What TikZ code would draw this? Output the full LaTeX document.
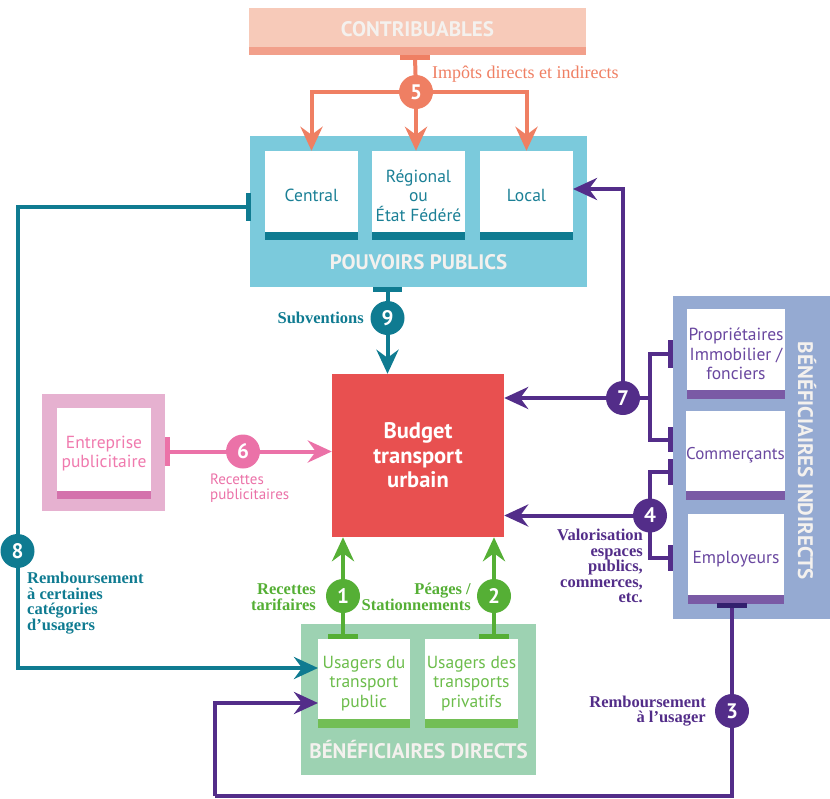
\documentclass[tikz,border=0pt]{standalone}
\usepackage{fontspec}
\setmainfont{Liberation Serif}
\setsansfont{PT Sans}
\usetikzlibrary{arrows.meta,calc}
\definecolor{cOr}{HTML}{EF7F63}
\definecolor{cOrFill}{HTML}{F7CAB9}
\definecolor{cOrBand}{HTML}{F2A08B}
\definecolor{cTeal}{HTML}{0F7B91}
\definecolor{cTealFill}{HTML}{7BCADC}
\definecolor{cTealTxt}{HTML}{1B8096}
\definecolor{cRed}{HTML}{E85050}
\definecolor{cPink}{HTML}{EB72A8}
\definecolor{cPinkFill}{HTML}{E6B1D0}
\definecolor{cPinkBand}{HTML}{D472AC}
\definecolor{cPinkTxt}{HTML}{F07AAE}
\definecolor{cGreen}{HTML}{55AF35}
\definecolor{cGreenFill}{HTML}{9DD2B2}
\definecolor{cGreenBand}{HTML}{72BE55}
\definecolor{cGreenTxt}{HTML}{6CBD4B}
\definecolor{cPurple}{HTML}{532D89}
\definecolor{cPurpleDark}{HTML}{33206E}
\definecolor{cPurpleFill}{HTML}{95AAD2}
\definecolor{cPurpleBand}{HTML}{7A5AA5}
\definecolor{cPurpleTxt}{HTML}{6A48A0}
\definecolor{cWhiteTxt}{HTML}{F4F1EE}
\begin{document}
\begin{tikzpicture}[x=1pt,y=-1pt,
  panel/.style={rectangle,inner sep=0pt,draw=none},
  inbox/.style={rectangle,inner sep=0pt,fill=white,align=center,font=\sffamily\fontsize{17.5}{19.5}\selectfont},
  ttl/.style={font=\sffamily\bfseries\fontsize{21}{22}\selectfont,text=cWhiteTxt,inner sep=0pt},
  num/.style={circle,inner sep=0pt,minimum size=34pt,text=white,font=\sffamily\bfseries\fontsize{21}{21}\selectfont},
  slab/.style={font=\bfseries\fontsize{16.5}{15.5}\selectfont,inner sep=0pt},
  flow/.style={line width=4pt},
  tip/.style={-{Stealth[length=24pt,width=22pt,inset=8pt]}}
]
\useasboundingbox (0,0) rectangle (830,798);

% ---------- boxes ----------
\node[panel,fill=cOrFill,minimum width=337pt,minimum height=47pt] (contrib) at (417.5,31.5) {};
\fill[cOrBand] ($(contrib.south west)+(0,-8)$) rectangle (contrib.south east);
\node[ttl] (contribT) at (417.5,29) {CONTRIBUABLES};

\node[panel,fill=cTealFill,minimum width=337pt,minimum height=151pt] (pouv) at (418.5,211.5) {};
\node[inbox,text=cTealTxt,minimum width=93pt,minimum height=89pt] (central) at (311.5,195.5) {Central};
\node[inbox,text=cTealTxt,minimum width=93pt,minimum height=89pt] (regional) at (418.5,195.5) {Régional\\ou\\État Fédéré};
\node[inbox,text=cTealTxt,minimum width=93pt,minimum height=89pt] (local) at (526.5,195.5) {Local};
\foreach \b in {central,regional,local}{\fill[cTeal] ($(\b.south west)+(0,-8)$) rectangle (\b.south east);}
\node[ttl] (pouvT) at (418.5,262) {POUVOIRS PUBLICS};

\node[panel,fill=cRed,minimum width=172pt,minimum height=163pt,text=white,align=center,
  font=\sffamily\bfseries\fontsize{22.5}{24.5}\selectfont] (budget) at (418,455.5) {Budget\\transport\\urbain};

\node[panel,fill=cPinkFill,minimum width=123pt,minimum height=117pt] (entr) at (103.5,452.5) {};
\node[inbox,text=cPinkTxt,minimum width=94pt,minimum height=91pt] (entrI) at (104,453.5) {Entreprise\\publicitaire};
\fill[cPinkBand] ($(entrI.south west)+(0,-8)$) rectangle (entrI.south east);

\node[panel,fill=cGreenFill,minimum width=235pt,minimum height=151pt] (dir) at (418.5,699.5) {};
\node[inbox,text=cGreenTxt,minimum width=92pt,minimum height=89pt] (up) at (364,683.5) {Usagers du\\transport\\public};
\node[inbox,text=cGreenTxt,minimum width=93pt,minimum height=89pt] (up2) at (471.5,683.5) {Usagers des\\transports\\privatifs};
\foreach \b in {up,up2}{\fill[cGreenBand] ($(\b.south west)+(0,-9)$) rectangle (\b.south east);}
\node[ttl] (dirT) at (418.5,750) {BÉNÉFICIAIRES DIRECTS};

\node[panel,fill=cPurpleFill,minimum width=157pt,minimum height=323pt] (ind) at (751.5,457.5) {};
\node[inbox,text=cPurpleTxt,minimum width=98pt,minimum height=90pt] (prop) at (736,354) {Propriétaires\\Immobilier /\\fonciers};
\node[inbox,text=cPurpleTxt,minimum width=97pt,minimum height=89pt,font=\sffamily\fontsize{17}{19.5}\selectfont] (comm) at (735.5,455.5) {Commerçants};
\node[inbox,text=cPurpleTxt,minimum width=96pt,minimum height=90pt] (empl) at (736,559) {Employeurs};
\foreach \b in {prop,comm,empl}{\fill[cPurpleBand] ($(\b.south west)+(0,-9)$) rectangle (\b.south east);}
\node[ttl,rotate=-90,font=\sffamily\bfseries\fontsize{21}{22}\selectfont] (indT) at (807,461) {BÉNÉFICIAIRES INDIRECTS};

% ---------- coordinates ----------
\coordinate (t5) at (415,57);
\coordinate (t9) at (387.5,289);
\coordinate (t8) at (248.5,207);
\coordinate (t6) at (167.5,451.5);
\coordinate (t1) at (343,636.5);
\coordinate (t2) at (494,636.5);
\coordinate (t7a) at (670.5,354);
\coordinate (t7b) at (670.5,439.5);
\coordinate (t4a) at (670.5,472);
\coordinate (t4b) at (670.5,558);
\coordinate (t3) at (732,605);
\coordinate (j7t) at (650,354);
\coordinate (j7b) at (650,439.5);
\coordinate (j4t) at (650,472);
\coordinate (j4b) at (650,558);
\coordinate (loc7) at (573,189);
\coordinate (in8) at (318,668);
\coordinate (in3) at (318,703);
\coordinate (l3) at (215,796);

% ---------- number circles (positions) ----------
\path (416,92) coordinate (p5) (387.5,318) coordinate (p9) (17.5,551) coordinate (p8)
      (243,451.5) coordinate (p6) (343,596) coordinate (p1) (494,596) coordinate (p2)
      (623,398) coordinate (p7) (650,515.5) coordinate (p4) (732,711) coordinate (p3);

% ---------- connectors ----------
\draw[flow,cOr] (t5) -- (p5);
\draw[flow,cOr,tip] (p5) -| (central.north);
\draw[flow,cOr,tip] (p5) -| (local.north);
\draw[flow,cOr,tip] (p5) -- (p5 |- regional.north);

\draw[flow,cTeal] (t9) -- (p9);
\draw[flow,cTeal,tip] (p9) -- (p9 |- budget.north);

\draw[flow,cTeal] (t8) -| (p8);
\draw[flow,cTeal,tip] (p8) |- (in8);

\draw[flow,cPink,tip] (t6) -- (budget.west |- t6);

\draw[flow,cGreen,tip] (t1) -- (t1 |- budget.south);
\draw[flow,cGreen,tip] (t2) -- (t2 |- budget.south);

\draw[flow,cPurple,line join=miter] (t7a) -- (j7t) -- (j7b) -- (t7b);
\draw[flow,cPurple] (p7) -- (p7 -| j7t);
\draw[flow,cPurple,tip] (p7) |- (loc7);
\draw[flow,cPurple,tip] (p7) -- (budget.east |- p7);

\draw[flow,cPurple,line join=miter] (t4a) -- (j4t) -- (j4b) -- (t4b);
\draw[flow,cPurple,tip] (p4) -- (budget.east |- p4);

\draw[flow,cPurple,line join=miter] (t3) -- (p3) |- (l3);
\draw[flow,cPurple,tip,line join=miter] (l3) |- (in3);

% ---------- tee bars ----------
\fill[cOr] (400,55) rectangle (430,59.5);
\fill[cTeal] (373,287) rectangle (402,291.5);
\fill[cTeal] (246,193) rectangle (251,221);
\fill[cPink] (165,437) rectangle (170,466);
\fill[cGreen] (328,634) rectangle (358,639);
\fill[cGreen] (479,634) rectangle (509,639);
\fill[cPurple] (668,340) rectangle (673,368);
\fill[cPurple] (668,427) rectangle (673,452);
\fill[cPurple] (668,459) rectangle (673,485);
\fill[cPurple] (668,545) rectangle (673,571);
\fill[cPurpleDark] (717,603) rectangle (747,607.5);

% ---------- number circles ----------
\node[num,fill=cOr] (c5) at (p5) {5};
\node[num,fill=cTeal] (c9) at (p9) {9};
\node[num,fill=cTeal] (c8) at (p8) {8};
\node[num,fill=cPink] (c6) at (p6) {6};
\node[num,fill=cGreen] (c1) at (p1) {1};
\node[num,fill=cGreen] (c2) at (p2) {2};
\node[num,fill=cPurple] (c7) at (p7) {7};
\node[num,fill=cPurple] (c4) at (p4) {4};
\node[num,fill=cPurple] (c3) at (p3) {3};

% ---------- labels ----------
\node[anchor=west,inner sep=0pt,text=cOr,font=\fontsize{18}{19}\selectfont] (l5) at (432,74) {Impôts directs et indirects};
\node[slab,anchor=east,text=cTeal] (l9) at (364,318) {Subventions};
\node[slab,anchor=north west,align=left,text=cTeal] (l8) at (27,572) {Remboursement\\à certaines\\catégories\\d’usagers};
\node[anchor=west,inner sep=0pt,align=left,text=cPink,font=\sffamily\fontsize{15}{14.5}\selectfont] (l6) at (210,488) {Recettes\\publicitaires};
\node[slab,anchor=east,align=right,text=cGreen] (l1) at (316,597) {Recettes\\tarifaires};
\node[slab,anchor=east,align=right,text=cGreen] (l2) at (471,597) {Péages /\\Stationnements};
\node[slab,anchor=north east,align=right,text=cPurple] (l4) at (643,529) {Valorisation\\espaces\\publics,\\commerces,\\etc.};
\node[slab,anchor=east,align=right,text=cPurple] (l3t) at (706,711) {Remboursement\\à l’usager};
\end{tikzpicture}
\end{document}
